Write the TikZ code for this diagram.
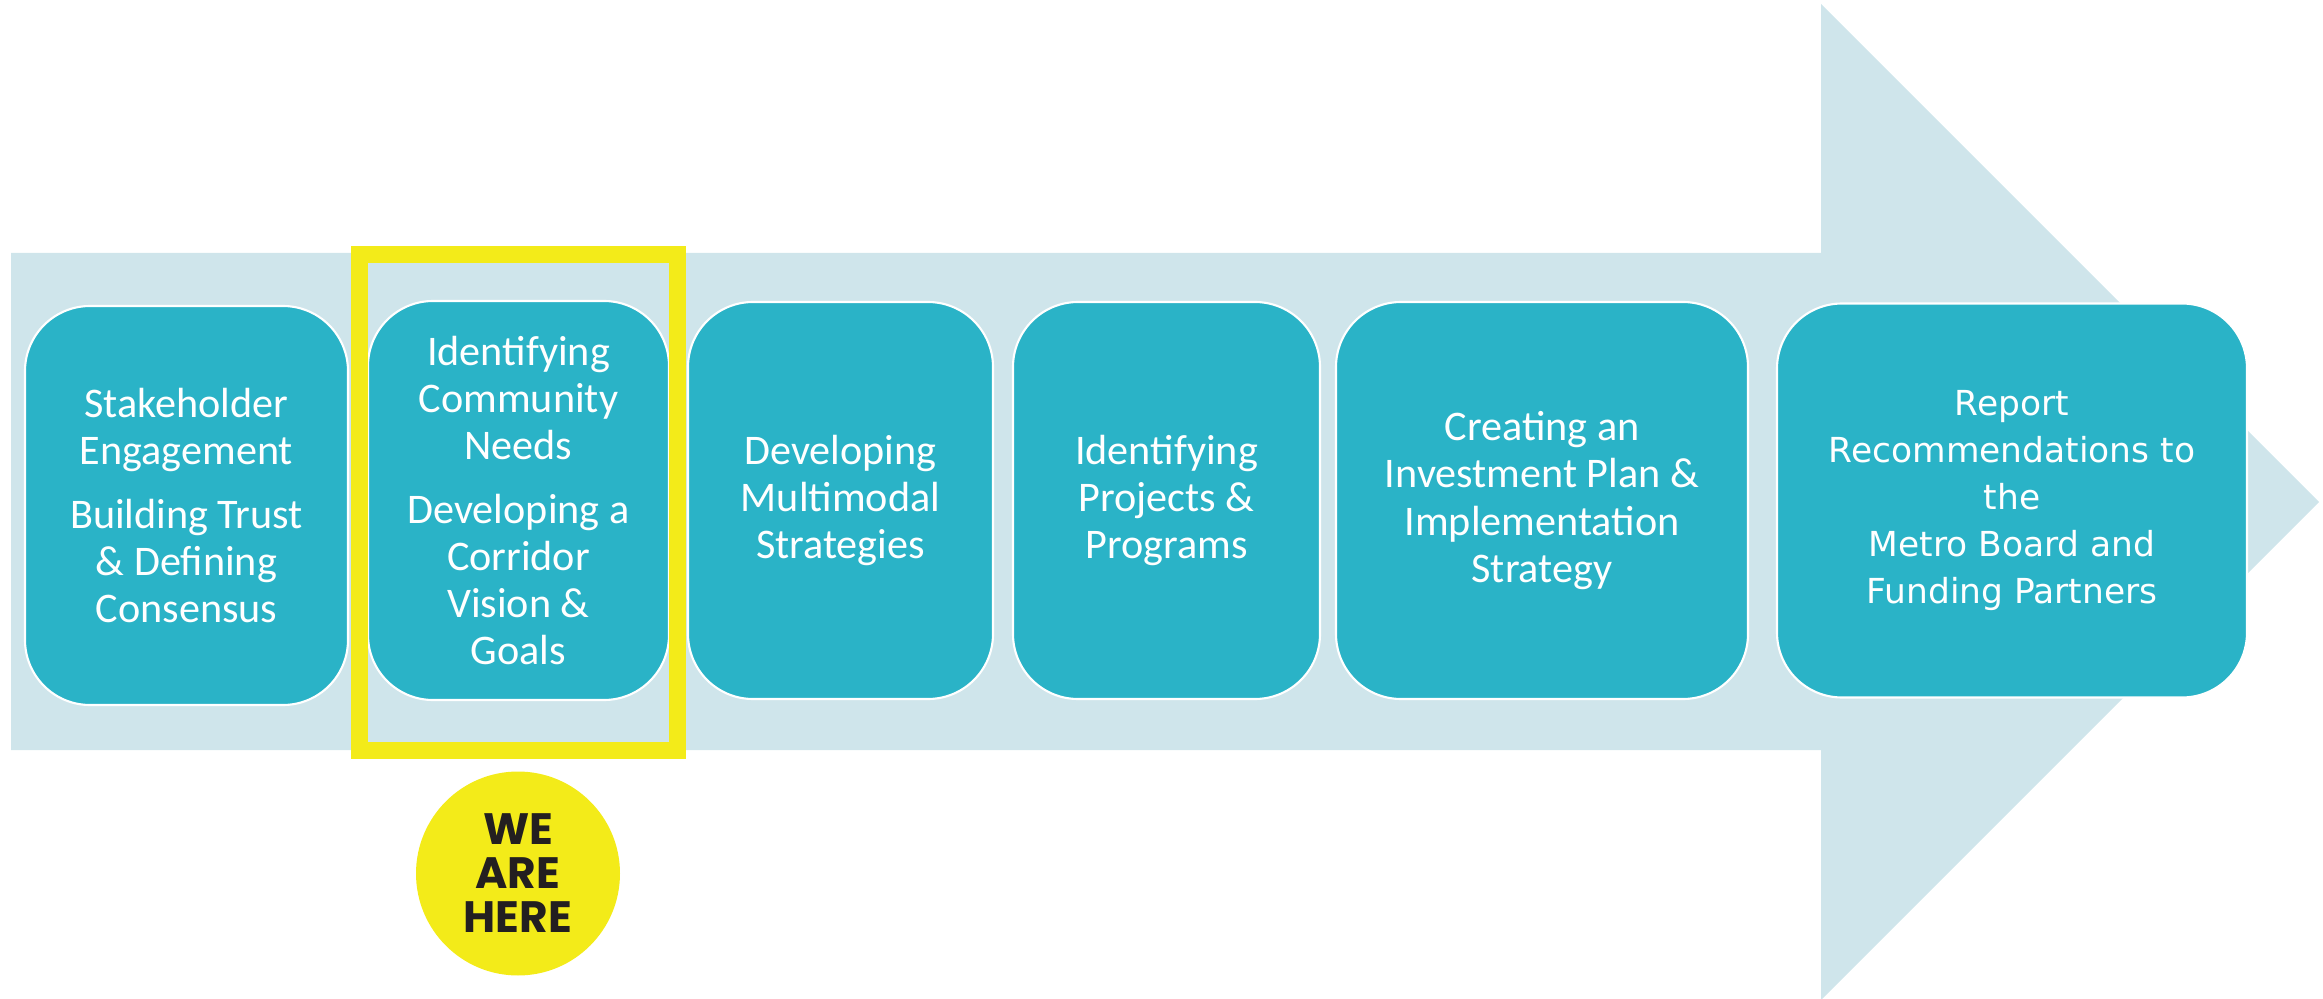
\documentclass[tikz,border=0pt]{standalone}
\usepackage{fontspec}
\setmainfont{Carlito}
\newfontfamily\widefont{DejaVu Sans}
\newfontfamily\badgefont{Poppins}
\usepackage{xcolor}
\usetikzlibrary{shapes,positioning,calc}

\definecolor{arrowblue}{HTML}{CFE5EB}
\definecolor{stageteal}{HTML}{2AB3C7}
\definecolor{hereyellow}{HTML}{F3EB19}
\definecolor{badgeink}{HTML}{231F20}

\begin{document}
\begin{tikzpicture}

    \tikzstyle{stage}=[draw=white, line width=0.6pt, outer sep=0pt, fill=stageteal, rounded corners=0.65cm, minimum height=3.97cm, inner sep=0pt, text=white, align=center, font=\fontsize{12}{13.4}\selectfont];
    \tikzstyle{widestage}=[stage, font=\widefont\fontsize{9.8}{13.4}\selectfont];

    \useasboundingbox (0,0) rectangle (23.23,9.98);

    \begin{scope}
      % background arrow
      \fill[arrowblue] (0.11,7.45) -- (18.21,7.45) -- (18.21,9.94) -- (23.19,4.96)
        -- (18.21,-0.02) -- (18.21,2.48) -- (0.11,2.48) -- cycle;

      \node (engagement) at (1.865,4.925) [stage, minimum width=3.23cm, minimum height=3.99cm]{Stakeholder\\Engagement\\[4.8pt]Building Trust\\\& Defining\\Consensus};
      \node (vision) at (5.185,4.975) [stage, minimum width=3.01cm, minimum height=3.99cm]{Identifying\\Community\\Needs\\[4.8pt]Developing a\\Corridor\\Vision \&\\Goals};
      \node (strategies) [right=0.19cm of vision, stage, minimum width=3.05cm]{Developing\\Multimodal\\Strategies};
      \node (projects) [right=0.2cm of strategies, stage, minimum width=3.07cm]{Identifying\\Projects \&\\Programs};
      \node (investPlan) [right=0.16cm of projects, stage, minimum width=4.12cm]{Creating an\\Investment Plan \&\\Implementation\\Strategy};
      \node (report) [right=0.29cm of investPlan, widestage, minimum width=4.70cm, minimum height=3.94cm]{Report\\Recommendations to\\the\\Metro Board and\\Funding Partners};

      % current phase
      \node (hereFrame) at (5.185,4.955) [draw=hereyellow, line width=0.17cm, minimum width=3.18cm, minimum height=4.96cm]{};
      \node (hereBadge) at (5.18,1.245) [circle, fill=hereyellow, minimum size=2.04cm, inner sep=0pt, text=badgeink, align=center, font=\badgefont\bfseries\fontsize{12.5}{12.5}\selectfont]{WE\\ARE\\HERE};
    \end{scope}
\end{tikzpicture}
\end{document}
